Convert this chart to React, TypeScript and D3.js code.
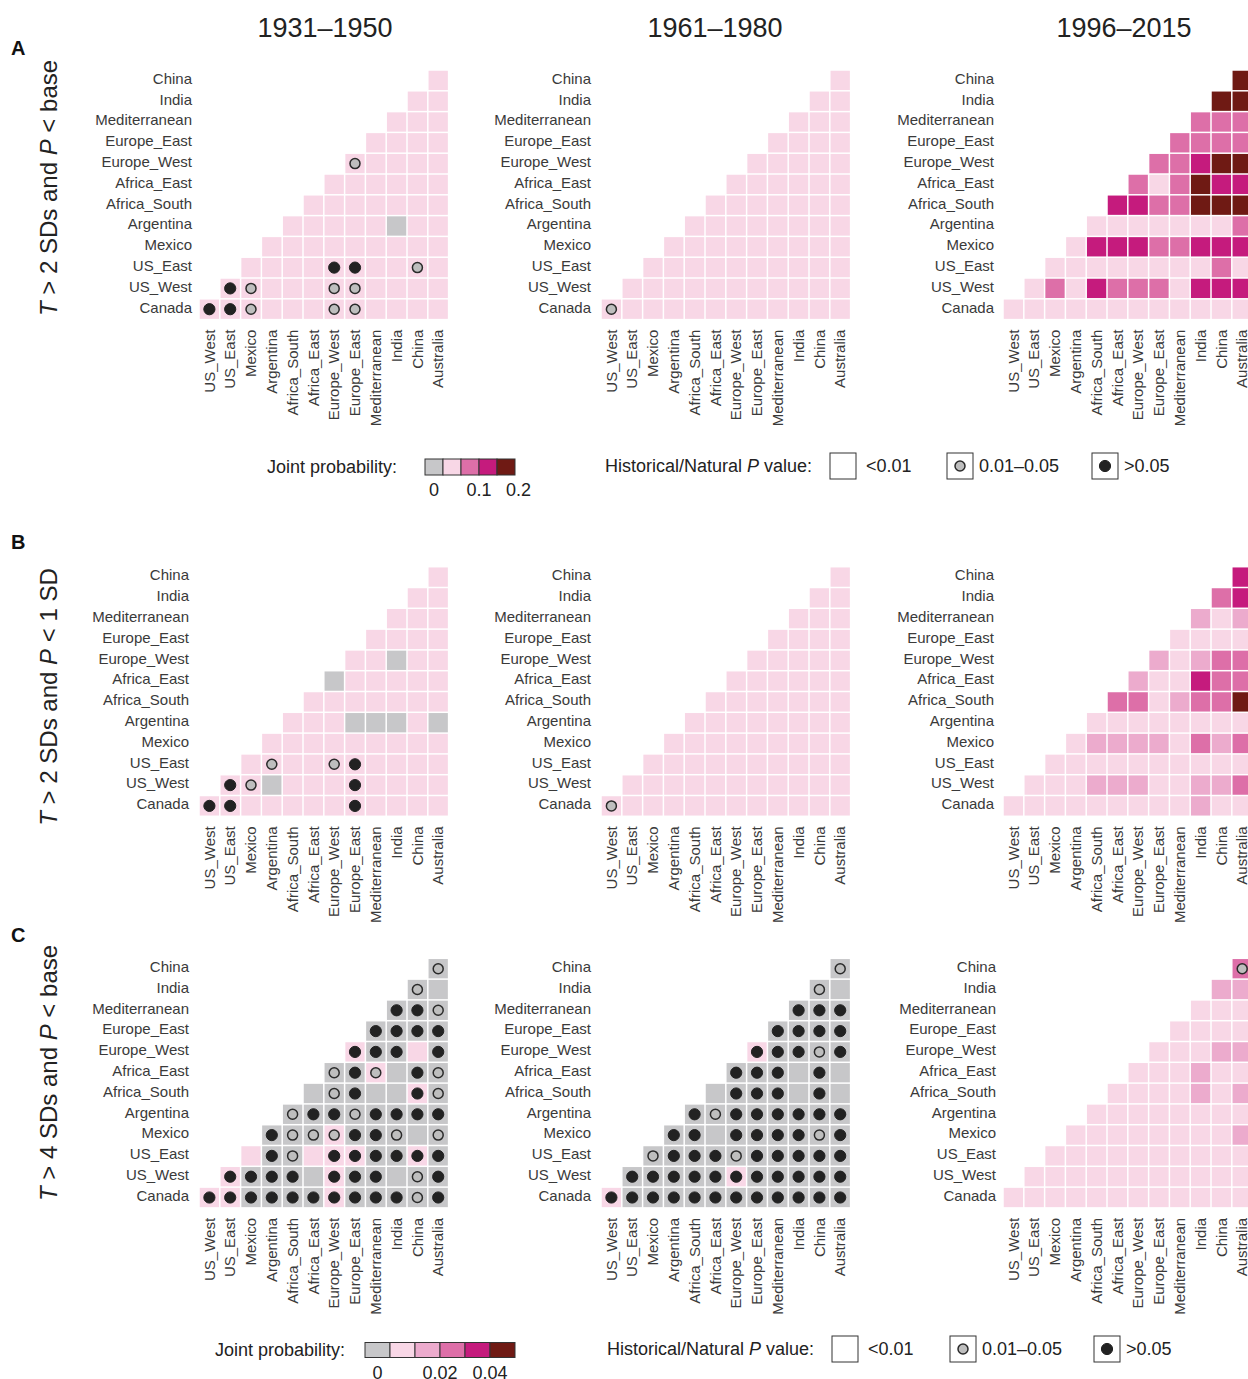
import React from "react";
import * as d3 from "d3";

// Regions along the columns (left to right) and rows (bottom to top)
const regionsX = ["US_West", "US_East", "Mexico", "Argentina", "Africa_South", "Africa_East", "Europe_West", "Europe_East", "Mediterranean", "India", "China", "Australia"];
const regionsY = ["Canada", "US_West", "US_East", "Mexico", "Argentina", "Africa_South", "Africa_East", "Europe_West", "Europe_East", "Mediterranean", "India", "China"];

const periods = ["1931–1950", "1961–1980", "1996–2015"];
const panelLetters = ["A", "B", "C"];
const rowTitles = [
  { n: "2 SDs", rest: "base" },
  { n: "2 SDs", rest: "1 SD" },
  { n: "4 SDs", rest: "base" },
];

// Joint probability bin per cell. Row i (Canada first) holds columns i..11.
// 0 = zero, 1..5 = increasing probability bins
const a1Fill = ["111111111111", "11111111111", "1111111111", "111111111", "11111011", "1111111", "111111", "11111", "1111", "111", "11", "1"];
const a2Fill = ["111111111111", "11111111111", "1111111111", "111111111", "11111111", "1111111", "111111", "11111", "1111", "111", "11", "1"];
const a3Fill = ["111111111111", "13143331444", "1111111131", "144433444", "11111113", "4433555", "313544", "33455", "3333", "333", "55", "5"];
const b1Fill = ["111111111111", "11011111111", "1111111111", "111111111", "11100010", "1111111", "011111", "11011", "1111", "111", "11", "1"];
const b2Fill = ["111111111111", "11111111111", "1111111111", "111111111", "11111111", "1111111", "111111", "11111", "1111", "111", "11", "1"];
const b3Fill = ["111111111211", "11122211223", "1111111111", "122221323", "11111111", "3312335", "211433", "21233", "1111", "212", "34", "4"];
const c1Fill = ["110000100000", "10000100000", "1001110010", "000100000", "00000000", "0000010", "001000", "10010", "0000", "000", "00", "0"];
const c2Fill = ["100000000000", "00000100000", "0000000000", "000000000", "00000000", "0000000", "000000", "10000", "0000", "000", "00", "0"];
const c3Fill = ["111111111111", "11111111111", "1111111111", "111111112", "11111111", "1111212", "111211", "11122", "1111", "111", "22", "3"];

// Historical/Natural P value class per cell: 0 = <0.01, 1 = 0.01–0.05, 2 = >0.05
const a1P = ["221000110000", "21000110000", "0000220010", "000000000", "00000000", "0000000", "000000", "10000", "0000", "000", "00", "0"];
const a2P = ["100000000000", "00000000000", "0000000000", "000000000", "00000000", "0000000", "000000", "00000", "0000", "000", "00", "0"];
const a3P = ["000000000000", "00000000000", "0000000000", "000000000", "00000000", "0000000", "000000", "00000", "0000", "000", "00", "0"];
const b1P = ["220000020000", "21000020000", "0100120000", "000000000", "00000000", "0000000", "000000", "00000", "0000", "000", "00", "0"];
const b2P = ["100000000000", "00000000000", "0000000000", "000000000", "00000000", "0000000", "000000", "00000", "0000", "000", "00", "0"];
const b3P = ["000000000000", "00000000000", "0000000000", "000000000", "00000000", "0000000", "000000", "00000", "0000", "000", "00", "0"];
const c1P = ["222222222212", "22220222012", "0210222222", "211122101", "12212222", "0120021", "121021", "22202", "2222", "221", "10", "1"];
const c2P = ["222222222222", "22222222222", "1222122222", "220222212", "21222222", "0222020", "222020", "22212", "2222", "222", "10", "1"];
const c3P = ["000000000000", "00000000000", "0000000000", "000000000", "00000000", "0000000", "000000", "00000", "0000", "000", "00", "1"];

const panelFills = [[a1Fill, a2Fill, a3Fill], [b1Fill, b2Fill, b3Fill], [c1Fill, c2Fill, c3Fill]];
const panelPs = [[a1P, a2P, a3P], [b1P, b2P, b3P], [c1P, c2P, c3P]];

const binColors = ["#c7c7c9", "#f8d7e6", "#ecabcd", "#dd6fa8", "#c51b7d", "#6f1a14"];
const legendABins = [0, 1, 3, 4, 5];
const legendATicks = [{ label: "0", at: 0.5 }, { label: "0.1", at: 3 }, { label: "0.2", at: 5.2 }];
const legendCBins = [0, 1, 2, 3, 4, 5];
const legendCTicks = [{ label: "0", at: 0.5 }, { label: "0.02", at: 3 }, { label: "0.04", at: 5 }];
const pLegendLabels = ["<0.01", "0.01–0.05", ">0.05"];

const FONT = "'Liberation Sans', Arial, Helvetica, sans-serif";
const CELL = 20.8;
const panelLeft = [199, 601, 1003];
const panelTop = [70, 566.7, 958.3];
const labelGap = [[7, 10, 9], [10, 10, 9], [10, 10, 7]];

const color = d3.scaleOrdinal<number, string>().domain(d3.range(binColors.length)).range(binColors);

function Circle({ cx, cy, cls }: { cx: number; cy: number; cls: number }) {
  if (cls === 0) return null;
  return cls === 2 ? (
    <circle cx={cx} cy={cy} r={5.6} fill="#222" stroke="#222" strokeWidth={1} />
  ) : (
    <circle cx={cx} cy={cy} r={5} fill="#bebebe" stroke="#2a2a2a" strokeWidth={1.5} />
  );
}

function Panel({ fill, pv, left, top, gap }: { fill: string[]; pv: string[]; left: number; top: number; gap: number }) {
  const x = d3.scaleBand<string>().domain(regionsX).range([left, left + CELL * regionsX.length]);
  const y = d3.scaleBand<string>().domain([...regionsY].reverse()).range([top, top + CELL * regionsY.length]);
  const bottom = top + CELL * regionsY.length;
  const cells: JSX.Element[] = [];
  const dots: JSX.Element[] = [];
  regionsY.forEach((rowName, r) => {
    const bins = fill[r].split("").map(Number);
    const ps = pv[r].split("").map(Number);
    bins.forEach((b, k) => {
      const colName = regionsX[r + k];
      const x0 = x(colName)!;
      const y0 = y(rowName)!;
      cells.push(
        <rect key={`c${r}-${k}`} x={x0 + 0.75} y={y0 + 0.75} width={CELL - 1.5} height={CELL - 1.5} fill={color(b)} />
      );
      dots.push(<Circle key={`d${r}-${k}`} cx={x0 + CELL / 2} cy={y0 + CELL / 2} cls={ps[k]} />);
    });
  });
  return (
    <g>
      {cells}
      {dots}
      {regionsY.map((name) => (
        <text key={`ry${name}`} x={left - gap} y={y(name)! + CELL / 2} dy="0.22em" textAnchor="end" fontSize={15} fill="#3a3a3a">
          {name}
        </text>
      ))}
      {regionsX.map((name) => {
        const cx = x(name)! + CELL / 2;
        const cy = bottom + 10;
        return (
          <text key={`rx${name}`} x={cx} y={cy} dy="0.35em" textAnchor="end" fontSize={15} fill="#3a3a3a" transform={`rotate(-90, ${cx}, ${cy})`}>
            {name}
          </text>
        );
      })}
    </g>
  );
}

function ColorLegend({ x0, cy, w, h, bins, ticks }: { x0: number; cy: number; w: number; h: number; bins: number[]; ticks: { label: string; at: number }[] }) {
  const sx = d3.scaleLinear().domain([0, bins.length]).range([x0, x0 + w * bins.length]);
  return (
    <g>
      {bins.map((b, i) => (
        <rect key={i} x={sx(i)} y={cy - h / 2} width={w} height={h} fill={color(b)} stroke="#333" strokeWidth={1} />
      ))}
      {ticks.map((t) => (
        <text key={t.label} x={sx(t.at)} y={cy + h / 2 + 15} dy="0.35em" textAnchor="middle" fontSize={18} fill="#222">
          {t.label}
        </text>
      ))}
    </g>
  );
}

function PLegend({ textX, cy, boxes }: { textX: number; cy: number; boxes: number[] }) {
  const s = 26;
  return (
    <g>
      <text x={textX} y={cy} dy="0.35em" fontSize={18} fill="#222">
        Historical/Natural <tspan fontStyle="italic">P</tspan> value:
      </text>
      {pLegendLabels.map((lab, i) => (
        <g key={lab}>
          <rect x={boxes[i]} y={cy - s / 2} width={s} height={s} fill="#fff" stroke="#333" strokeWidth={1} />
          <Circle cx={boxes[i] + s / 2} cy={cy} cls={i} />
          <text x={boxes[i] + s + (i === 0 ? 10 : 6)} y={cy} dy="0.35em" fontSize={18} fill="#222">
            {lab}
          </text>
        </g>
      ))}
    </g>
  );
}

export default function App() {
  const rowCenters = [188, 697, 1073];
  const letterY = [55, 549, 942];
  const titleX = [325, 715, 1124];
  return (
    <svg
      width={1248}
      height={1379}
      style={{ position: "absolute", left: 0, top: 0, background: "#fff", fontFamily: FONT }}
    >
      <rect x={0} y={0} width={1248} height={1379} fill="#fff" />
      {periods.map((p, i) => (
        <text key={p} x={titleX[i]} y={37} textAnchor="middle" fontSize={27} fill="#222">
          {p}
        </text>
      ))}
      {panelLetters.map((l, i) => (
        <text key={l} x={11} y={letterY[i]} fontSize={20} fontWeight="bold" fill="#111">
          {l}
        </text>
      ))}
      {rowTitles.map((t, i) => (
        <text
          key={i}
          x={57}
          y={rowCenters[i]}
          textAnchor="middle"
          fontSize={24}
          fill="#222"
          transform={`rotate(-90, 57, ${rowCenters[i]})`}
        >
          <tspan fontStyle="italic">T</tspan> {"> " + t.n + " and "}
          <tspan fontStyle="italic">P</tspan> {"< " + t.rest}
        </text>
      ))}
      {panelFills.map((row, ri) =>
        row.map((f, ci) => (
          <Panel key={`${ri}-${ci}`} fill={f} pv={panelPs[ri][ci]} left={panelLeft[ci]} top={panelTop[ri]} gap={labelGap[ri][ci]} />
        ))
      )}
      {/* legends */}
      <text x={267} y={467} dy="0.35em" fontSize={18} fill="#222">Joint probability:</text>
      <ColorLegend x0={425} cy={467} w={18} h={16} bins={legendABins} ticks={legendATicks} />
      <PLegend textX={605} cy={466} boxes={[830, 947, 1092]} />

      <text x={215} y={1350} dy="0.35em" fontSize={18} fill="#222">Joint probability:</text>
      <ColorLegend x0={365} cy={1350} w={25} h={15} bins={legendCBins} ticks={legendCTicks} />
      <PLegend textX={607} cy={1349} boxes={[832, 950, 1094]} />
    </svg>
  );
}
